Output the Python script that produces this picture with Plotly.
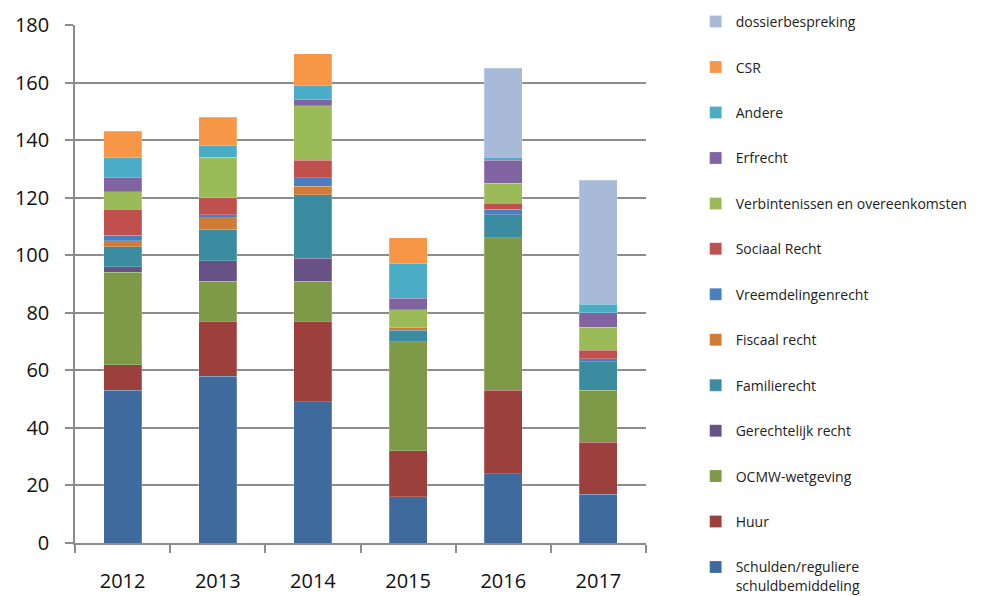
import plotly.graph_objects as go

categories = ["2012", "2013", "2014", "2015", "2016", "2017"]

series_names = [
    "Schulden/reguliere<br>schuldbemiddeling",
    "Huur",
    "OCMW-wetgeving",
    "Gerechtelijk recht",
    "Familierecht",
    "Fiscaal recht",
    "Vreemdelingenrecht",
    "Sociaal Recht",
    "Verbintenissen en overeenkomsten",
    "Erfrecht",
    "Andere",
    "CSR",
    "dossierbespreking",
]

schulden = [53, 58, 49, 16, 24, 17]
huur = [9, 19, 28, 16, 29, 18]
ocmw = [32, 14, 14, 38, 53, 18]
gerechtelijk = [2, 7, 8, 0, 0, 0]
familierecht = [7, 11, 22, 4, 8, 10]
fiscaal = [2, 4, 3, 1, 0, 0]
vreemdelingen = [2, 1, 3, 0, 2, 1]
sociaal = [9, 6, 6, 0, 2, 3]
verbintenissen = [6, 14, 19, 6, 7, 8]
erfrecht = [5, 0, 2, 4, 8, 5]
andere = [7, 4, 5, 12, 1, 3]
csr = [9, 10, 11, 9, 0, 0]
dossier = [0, 0, 0, 0, 31, 43]

series_values = [schulden, huur, ocmw, gerechtelijk, familierecht, fiscaal,
                 vreemdelingen, sociaal, verbintenissen, erfrecht, andere, csr, dossier]

colors = ["#3F6A9D", "#9C403D", "#7E9A48", "#685184", "#3B8BA1", "#D07C37",
          "#4A7EBE", "#C0504D", "#9BBB59", "#8064A2", "#4BACC6", "#F79646", "#A9B9D8"]

n = len(series_names)
fig = go.Figure()
for i, (name, vals, col) in enumerate(zip(series_names, series_values, colors)):
    fig.add_trace(go.Bar(
        x=categories,
        y=[v if v else None for v in vals],
        name=name,
        legendgroup=f"g{i}",
        legendrank=n - i,
        marker=dict(color=col, line=dict(color="rgba(255,255,255,0.35)", width=0.6)),
    ))

grid = "#8C8C8C"
fig.update_layout(
    barmode="stack",
    bargap=0.6,
    width=987,
    height=588,
    plot_bgcolor="white",
    paper_bgcolor="white",
    margin=dict(l=67, r=349, t=17, b=53, autoexpand=False),
    font=dict(family="Open Sans, Liberation Sans, sans-serif", color="#1a1a1a"),
    legend=dict(
        traceorder="grouped",
        tracegroupgap=24.25,
        maxheight=800,
        x=1.087, xanchor="left",
        y=1.0367, yanchor="top",
        valign="top",
        font=dict(size=14, family="Open Sans, sans-serif", color="#222"),
        bgcolor="rgba(0,0,0,0)",
    ),
    xaxis=dict(
        showline=True, linecolor=grid, linewidth=1.5,
        ticks="outside", tickson="boundaries", ticklen=8, tickcolor=grid, tickwidth=1.5,
        tickfont=dict(size=20, family="Open Sans, sans-serif", color="#111"),
        ticklabelstandoff=19,
        showgrid=False,
    ),
    yaxis=dict(
        range=[0, 180], dtick=20,
        showline=True, linecolor=grid, linewidth=1.5,
        ticks="outside", ticklen=8, tickcolor=grid, tickwidth=1.5,
        showgrid=True, gridcolor=grid, gridwidth=1.5,
        zeroline=False,
        tickfont=dict(size=20, family="Open Sans, sans-serif", color="#111"),
        ticklabelstandoff=12,
    ),
)

fig.write_html("out.html")
